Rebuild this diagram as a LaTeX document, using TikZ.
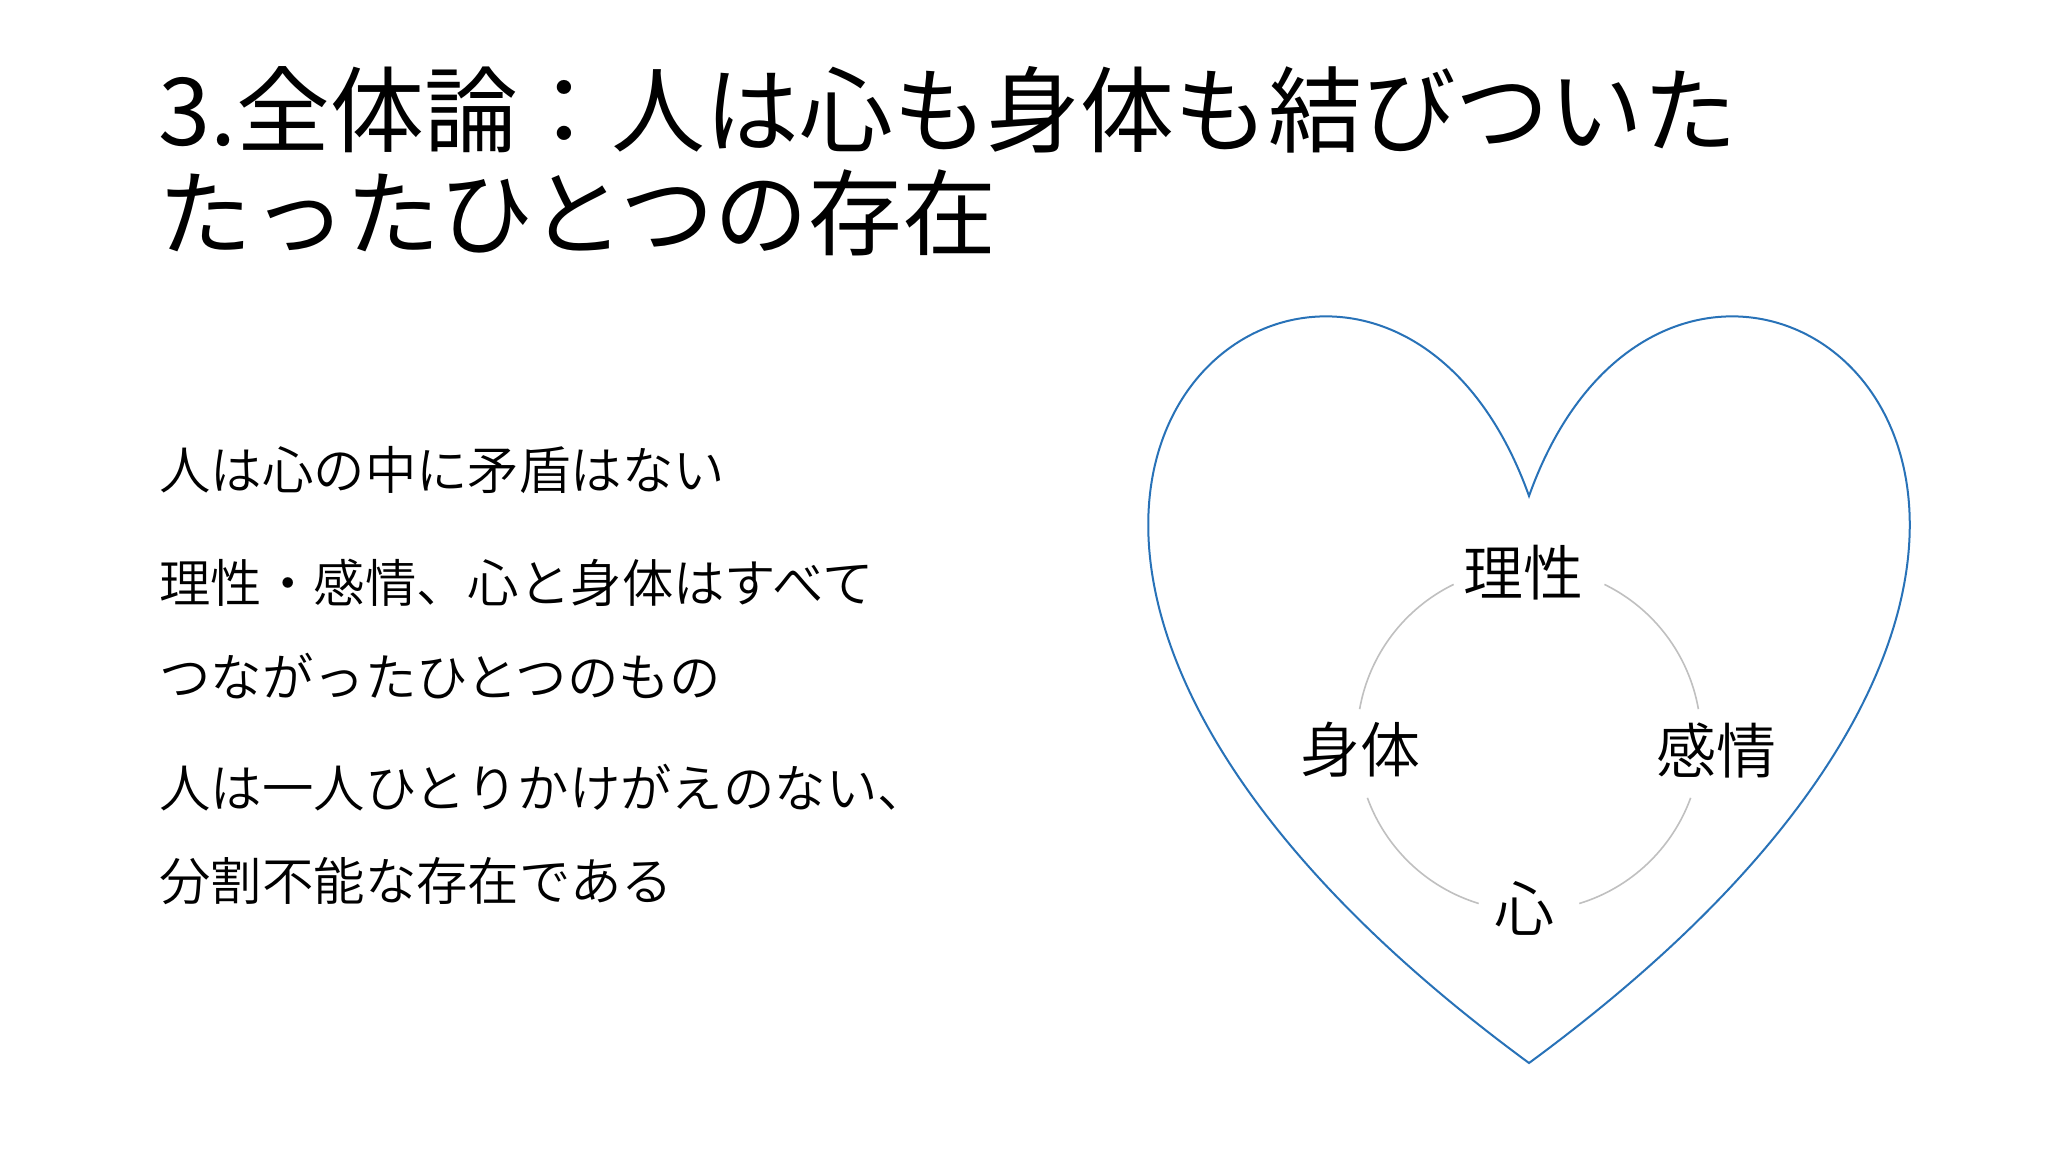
\documentclass[tikz,border=0pt]{standalone}
\usepackage{fontspec}
\setmainfont{Noto Sans CJK JP}
\newfontfamily\jplight{Noto Sans CJK JP DemiLight}
\definecolor{heartblue}{RGB}{40,114,184}
\definecolor{ringgray}{RGB}{192,192,192}
\begin{document}
\begin{tikzpicture}[x=0.5pt,y=-0.5pt,
  titletext/.style={anchor=west, inner sep=0pt, font=\fontsize{46.9pt}{50pt}\selectfont},
  bodytext/.style={anchor=west, inner sep=0pt, font=\jplight\fontsize{25.7pt}{30pt}\selectfont},
  ringtext/.style={anchor=center, inner sep=0pt, font=\jplight\fontsize{30pt}{34pt}\selectfont},
  heartline/.style={draw=heartblue, line width=1pt},
  ringline/.style={draw=ringgray, line width=0.8pt}]
\useasboundingbox[fill=white] (0,0) rectangle (2048,1152);

% title
\node[titletext] (t1) at (158,110) {3.全体論：人は心も身体も結びついた};
\node[titletext] (t2) at (158,213) {たったひとつの存在};

% body
\node[bodytext] (b1) at (159,470) {人は心の中に矛盾はない};
\node[bodytext] (b2) at (159,583) {理性・感情、心と身体はすべて};
\node[bodytext] (b3) at (159,676) {つながったひとつのもの};
\node[bodytext] (b4) at (159,788) {人は一人ひとりかけがえのない、};
\node[bodytext] (b5) at (159,881) {分割不能な存在である};

% heart
\coordinate (notch) at (1529,496);
\coordinate (tip) at (1529,1063);
\draw[heartline] (notch) .. controls (1686.5,55) and (2300.75,496) .. (tip)
  .. controls (757.25,496) and (1371.5,55) .. cycle;

% ring
\coordinate (hub) at (1529,739);
\node[ringtext] (reason) at (1523,573) {理性};
\node[ringtext] (body) at (1360,750) {身体};
\node[ringtext] (emotion) at (1716,750) {感情};
\node[ringtext] (mind) at (1524,908) {心};
\draw[ringline] ([shift={(-10:172)}]hub) arc[start angle=-10, end angle=-64, radius=172];
\draw[ringline] ([shift={(-116:172)}]hub) arc[start angle=-116, end angle=-170, radius=172];
\draw[ringline] ([shift={(-200:172)}]hub) arc[start angle=-200, end angle=-253, radius=172];
\draw[ringline] ([shift={(-287:172)}]hub) arc[start angle=-287, end angle=-340, radius=172];
\end{tikzpicture}
\end{document}
